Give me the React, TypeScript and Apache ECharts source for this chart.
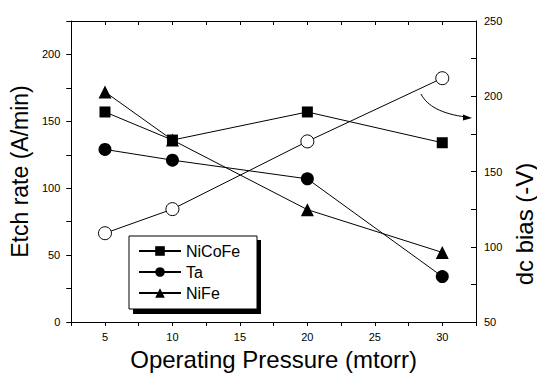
import React, { useEffect, useRef } from "react";
import * as echarts from "echarts";

const pressure = [5, 10, 20, 30];
const niCoFe = [157, 136, 157, 134];
const ta = [129, 121, 107, 34];
const niFe = [172, 136, 84, 52];
const dcBias = [109, 125, 170, 212];

const FONT = "Liberation Sans, Arial, sans-serif";

export default function App() {
  const ref = useRef<HTMLDivElement>(null);
  useEffect(() => {
    if (!ref.current) return;
    document.body.style.margin = "0";
    const chart = echarts.init(ref.current, null, { renderer: "svg" });
    const mk = (arr: number[]) => pressure.map((p, i) => [p, arr[i]]);
    const lineStyle = { color: "#000", width: 1 };
    chart.setOption({
      animation: false,
      textStyle: { fontFamily: FONT },
      grid: { left: 70, right: 61, top: 21, bottom: 56 },
      legend: {
        left: 138,
        top: 243,
        padding: 0,
        orient: "vertical",
        itemWidth: 42,
        itemHeight: 12,
        itemGap: 5,
        textStyle: { fontFamily: FONT, fontSize: 16, color: "#000" },
        data: ["NiCoFe", "Ta", "NiFe"],
      },
      xAxis: [
        {
          type: "value",
          min: 2.5,
          max: 32.5,
          interval: 2.5,
          position: "bottom",
          name: "Operating Pressure (mtorr)",
          nameLocation: "middle",
          nameGap: 25,
          nameTextStyle: { fontFamily: FONT, fontSize: 24, color: "#000" },
          axisLine: { lineStyle: { color: "#000", width: 1 } },
          axisTick: { show: true, inside: false, length: 4, lineStyle: { color: "#000" } },
          axisLabel: {
            formatter: (v: number) => (v % 5 === 0 ? String(v) : ""),
            fontFamily: FONT,
            fontSize: 11,
            color: "#000",
            margin: 9,
          },
          splitLine: { show: false },
        },
        {
          type: "value",
          min: 2.5,
          max: 32.5,
          interval: 2.5,
          position: "top",
          axisLine: { show: true, lineStyle: { color: "#000", width: 1 } },
          axisTick: { show: true, inside: true, length: 4, lineStyle: { color: "#000" } },
          axisLabel: { show: false },
          splitLine: { show: false },
        },
      ],
      yAxis: [
        {
          type: "value",
          min: 0,
          max: 225,
          interval: 25,
          position: "left",
          name: "Etch rate (A/min)",
          nameLocation: "middle",
          nameRotate: 90,
          nameGap: 34,
          nameTextStyle: { fontFamily: FONT, fontSize: 23, color: "#000" },
          axisLine: { show: true, lineStyle: { color: "#000", width: 1 } },
          axisTick: { show: true, inside: false, length: 5, lineStyle: { color: "#000" } },
          axisLabel: {
            formatter: (v: number) => (v % 50 === 0 && v <= 200 ? String(v) : ""),
            fontFamily: FONT,
            fontSize: 11,
            color: "#000",
            margin: 11,
          },
          splitLine: { show: false },
        },
        {
          type: "value",
          min: 50,
          max: 250,
          interval: 25,
          position: "right",
          axisLine: { show: true, lineStyle: { color: "#000", width: 1 } },
          axisTick: { show: true, inside: true, length: 5, lineStyle: { color: "#000" } },
          axisLabel: {
            formatter: (v: number) => (v % 50 === 0 ? String(v) : ""),
            fontFamily: FONT,
            fontSize: 11,
            color: "#000",
            margin: 8,
          },
          splitLine: { show: false },
        },
      ],
      series: [
        {
          name: "NiCoFe",
          type: "line",
          data: mk(niCoFe),
          symbol: "rect",
          symbolSize: 11,
          itemStyle: { color: "#000" },
          lineStyle,
          z: 3,
        },
        {
          name: "Ta",
          type: "line",
          data: mk(ta),
          symbol: "circle",
          symbolSize: 13,
          itemStyle: { color: "#000" },
          lineStyle,
          z: 3,
        },
        {
          name: "NiFe",
          type: "line",
          data: mk(niFe),
          symbol: "triangle",
          symbolSize: 13,
          itemStyle: { color: "#000" },
          lineStyle,
          z: 3,
        },
        {
          name: "dc bias",
          type: "line",
          yAxisIndex: 1,
          data: mk(dcBias),
          symbol: "circle",
          symbolSize: 13,
          itemStyle: { color: "#fff", borderColor: "#000", borderWidth: 1 },
          lineStyle,
          z: 3,
        },
      ],
      graphic: [
        {
          type: "rect",
          shape: { x: 133, y: 240, width: 128, height: 74 },
          style: { fill: "#000" },
          z: 1,
        },
        {
          type: "rect",
          shape: { x: 129, y: 236, width: 128, height: 73 },
          style: { fill: "#fff", stroke: "#000", lineWidth: 1 },
          z: 2,
        },
        {
          type: "bezierCurve",
          shape: { x1: 421, y1: 94, cpx1: 427, cpy1: 106, cpx2: 442, cpy2: 114, x2: 466, y2: 117 },
          style: { stroke: "#000", lineWidth: 1, fill: "none" },
          z: 5,
        },
        {
          type: "polygon",
          shape: { points: [[472, 118], [463, 114.5], [463, 120.5]] },
          style: { fill: "#000" },
          z: 5,
        },
        {
          type: "text",
          x: 524,
          y: 224,
          rotation: Math.PI / 2,
          style: {
            text: "dc bias (-V)",
            fontFamily: FONT,
            fontSize: 24,
            fill: "#000",
            align: "center",
            verticalAlign: "middle",
          },
          z: 5,
        },
      ],
    });
    return () => chart.dispose();
  }, []);
  return <div ref={ref} style={{ width: 537, height: 378 }} />;
}
